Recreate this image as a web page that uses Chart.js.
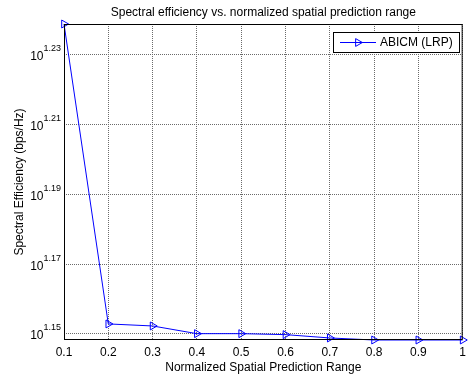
<!DOCTYPE html>
<html><head><meta charset="utf-8">
<script src="https://cdn.jsdelivr.net/npm/chart.js@4/dist/chart.umd.min.js"></script>
<style>html,body{margin:0;padding:0;background:#fff}canvas{display:block}</style>
</head><body>
<canvas id="c" width="471" height="378"></canvas>
<script>
const xValues = [0.1, 0.2, 0.3, 0.4, 0.5, 0.6, 0.7, 0.8, 0.9, 1.0];
const seriesABICM = [17.333, 14.219, 14.200, 14.128, 14.128, 14.119, 14.088, 14.069, 14.069, 14.069];
const xTickValues = [0.1, 0.2, 0.3, 0.4, 0.5, 0.6, 0.7, 0.8, 0.9, 1.0];
const xTickLabels = ['0.1', '0.2', '0.3', '0.4', '0.5', '0.6', '0.7', '0.8', '0.9', '1'];
const yTickExponents = [1.15, 1.17, 1.19, 1.21, 1.23];
const yTickLabels = ['1.15', '1.17', '1.19', '1.21', '1.23'];
const yMin = 14.069, yMax = 17.333;
const seriesName = 'ABICM (LRP)';
const chartTitle = 'Spectral efficiency vs. normalized spatial prediction range';
const xTitle = 'Normalized Spatial Prediction Range';
const yTitle = 'Spectral Efficiency (bps/Hz)';

const FONT = "'Liberation Sans', Arial, Helvetica, sans-serif";
const BLUE = '#0000ff';

function tri(ctx, x, y, r) {
  ctx.beginPath();
  ctx.moveTo(x + r * 0.75, y);
  ctx.lineTo(x - r * 0.75, y - r * 0.866);
  ctx.lineTo(x - r * 0.75, y + r * 0.866);
  ctx.closePath();
  ctx.stroke();
}

const decor = {
  id: 'decor',
  afterDraw(chart) {
    const ctx = chart.ctx;
    const a = chart.chartArea;
    const ys = chart.scales.y;
    ctx.save();
    ctx.strokeStyle = '#000';
    ctx.lineWidth = 1;
    ctx.strokeRect(a.left + 0.5, a.top + 0.5, a.right - a.left - 1, a.bottom - a.top - 1);
    ctx.fillStyle = '#000';
    ctx.font = '12px ' + FONT;
    ctx.textAlign = 'center';
    ctx.textBaseline = 'middle';
    ctx.fillText(chartTitle, (a.left + a.right) / 2, 13);
    ctx.textAlign = 'right';
    yTickExponents.forEach((e, i) => {
      const py = ys.getPixelForValue(Math.pow(10, e));
      ctx.font = '9px ' + FONT;
      const sw = ctx.measureText(yTickLabels[i]).width;
      ctx.fillText(yTickLabels[i], a.left - 3, py - 6);
      ctx.font = '12px ' + FONT;
      ctx.fillText('10', a.left - 3 - sw, py + 2);
    });
    const lx = 333, ly = 32, lw = 126, lh = 20;
    ctx.fillStyle = '#fff';
    ctx.fillRect(lx, ly, lw, lh);
    ctx.strokeStyle = '#000';
    ctx.strokeRect(lx + 0.5, ly + 0.5, lw, lh);
    ctx.strokeStyle = BLUE;
    ctx.beginPath();
    ctx.moveTo(340, 42.5);
    ctx.lineTo(376, 42.5);
    ctx.stroke();
    tri(ctx, 359, 42.5, 4.5);
    ctx.fillStyle = '#000';
    ctx.font = '12px ' + FONT;
    ctx.textAlign = 'left';
    ctx.fillText(seriesName, 380, 42.5);
    ctx.restore();
  }
};

new Chart(document.getElementById('c'), {
  type: 'line',
  data: {
    datasets: [{
      label: seriesName,
      data: xValues.map((x, i) => ({x: x, y: seriesABICM[i]})),
      borderColor: BLUE,
      borderWidth: 1,
      backgroundColor: 'rgba(0,0,0,0)',
      pointStyle: 'triangle',
      pointRotation: 90,
      pointRadius: 4.6,
      pointBorderWidth: 1,
      pointBorderColor: BLUE,
      pointBackgroundColor: 'rgba(0,0,0,0)',
      tension: 0,
      clip: false
    }]
  },
  options: {
    responsive: false,
    animation: false,
    devicePixelRatio: 1,
    layout: {padding: {top: 24, right: 8, left: 0, bottom: 0}},
    plugins: {legend: {display: false}, title: {display: false}, tooltip: {enabled: false}},
    scales: {
      x: {
        type: 'linear',
        min: 0.1, max: 1.0,
        afterBuildTicks: s => { s.ticks = xTickValues.map(v => ({value: v})); },
        afterFit: s => { s.height = 38; },
        ticks: {
          callback: (v, i) => xTickLabels[i],
          color: '#000', padding: 5, maxRotation: 0, autoSkip: false,
          font: {family: FONT, size: 12}
        },
        grid: {color: '#6a6a6a', lineWidth: 1, drawTicks: false},
        border: {display: false, dash: [1, 1]},
        title: {display: true, text: xTitle, color: '#000', font: {family: FONT, size: 12}, padding: {top: 0, bottom: 3}}
      },
      y: {
        type: 'logarithmic',
        min: yMin, max: yMax,
        afterBuildTicks: s => { s.ticks = yTickExponents.map(e => ({value: Math.pow(10, e)})); },
        afterFit: s => { s.width = 64; },
        ticks: {callback: () => '', font: {family: FONT, size: 12}},
        grid: {color: '#6a6a6a', lineWidth: 1, drawTicks: false},
        border: {display: false, dash: [1, 1]},
        title: {display: true, text: yTitle, color: '#000', font: {family: FONT, size: 12}, padding: {top: 12, bottom: 0}}
      }
    }
  },
  plugins: [decor]
});
</script>
</body></html>
